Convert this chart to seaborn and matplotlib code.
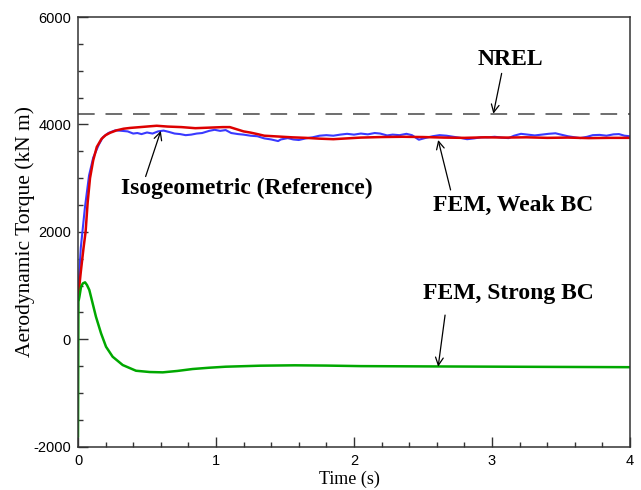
import matplotlib
matplotlib.use("Agg")
import matplotlib.pyplot as plt
import matplotlib.ticker as mtick
import pandas as pd
import seaborn as sns

# Valores (tempo em s, torque em kN m)
t_fem_weak = [0.0, 0.02, 0.05, 0.08, 0.11, 0.15, 0.18, 0.22, 0.27, 0.32, 0.36, 0.40, 0.43,
              0.46, 0.50, 0.54, 0.58, 0.62, 0.66, 0.70, 0.74, 0.78, 0.82, 0.86, 0.90, 0.95,
              0.99, 1.03, 1.07, 1.11, 1.16, 1.20, 1.25, 1.30, 1.35, 1.40, 1.45, 1.47, 1.52,
              1.56, 1.60, 1.65, 1.70, 1.75, 1.80, 1.85, 1.90, 1.95, 2.00, 2.05, 2.10, 2.15,
              2.19, 2.24, 2.28, 2.33, 2.38, 2.42, 2.47, 2.52, 2.57, 2.62, 2.67, 2.72, 2.77,
              2.82, 2.87, 2.92, 2.97, 3.02, 3.07, 3.12, 3.16, 3.21, 3.26, 3.31, 3.36, 3.41,
              3.46, 3.50, 3.55, 3.60, 3.64, 3.69, 3.73, 3.78, 3.83, 3.88, 3.92, 3.96, 4.00]
v_fem_weak = [800, 1700, 2450, 3050, 3380, 3620, 3760, 3840, 3890, 3880, 3870, 3830, 3840,
              3820, 3850, 3830, 3870, 3885, 3860, 3830, 3820, 3800, 3810, 3830, 3840, 3880,
              3900, 3880, 3895, 3840, 3820, 3810, 3790, 3780, 3740, 3720, 3690, 3720, 3745,
              3720, 3710, 3740, 3760, 3790, 3800, 3790, 3810, 3825, 3810, 3830, 3815, 3840,
              3830, 3795, 3810, 3800, 3825, 3800, 3715, 3750, 3780, 3800, 3790, 3770, 3750,
              3725, 3740, 3760, 3760, 3770, 3755, 3745, 3790, 3825, 3810, 3795, 3810, 3825,
              3835, 3810, 3780, 3760, 3745, 3770, 3800, 3805, 3790, 3815, 3820, 3790, 3780]

t_iga = [0.0, 0.02, 0.04, 0.055, 0.07, 0.087, 0.11, 0.136, 0.17, 0.20, 0.233, 0.28, 0.33,
         0.378, 0.45, 0.52, 0.57, 0.65, 0.75, 0.85, 0.95, 1.05, 1.10, 1.15, 1.20, 1.25, 1.30,
         1.35, 1.45, 1.55, 1.65, 1.75, 1.85, 1.95, 2.05, 2.2, 2.35, 2.5, 2.65, 2.8, 2.95,
         3.1, 3.25, 3.4, 3.55, 3.7, 3.85, 4.0]
v_iga = [750, 1250, 1700, 2000, 2550, 3000, 3330, 3580, 3730, 3800, 3845, 3890, 3920,
         3935, 3950, 3965, 3975, 3960, 3950, 3930, 3940, 3950, 3950, 3910, 3870, 3848, 3820,
         3790, 3775, 3760, 3750, 3735, 3725, 3740, 3755, 3765, 3770, 3765, 3755, 3750, 3760,
         3755, 3760, 3750, 3755, 3745, 3750, 3750]

t_fem_strong = [0.0, 0.003, 0.01, 0.022, 0.035, 0.051, 0.065, 0.082, 0.106, 0.130, 0.167,
                0.203, 0.251, 0.324, 0.42, 0.52, 0.614, 0.72, 0.83, 0.95, 1.07, 1.32, 1.57,
                1.8, 2.05, 2.5, 3.0, 3.5, 4.0]
v_fem_strong = [-1820, 700, 790, 978, 1040, 1060, 1010, 917, 669, 420, 110,
                -139, -325, -480, -586, -610, -616, -590, -554, -530, -511, -492, -485,
                -490, -500, -505, -510, -515, -520]

nrel_torque = 4190

df = pd.concat([
    pd.DataFrame({"tempo": t_fem_weak, "torque": v_fem_weak, "caso": "FEM, Weak BC"}),
    pd.DataFrame({"tempo": t_iga, "torque": v_iga, "caso": "Isogeometric (Reference)"}),
    pd.DataFrame({"tempo": t_fem_strong, "torque": v_fem_strong, "caso": "FEM, Strong BC"}),
])

sns.set_style("white")
plt.rcParams["xtick.direction"] = "in"
plt.rcParams["ytick.direction"] = "in"
plt.rcParams["axes.unicode_minus"] = False
plt.rcParams["text.color"] = "black"
plt.rcParams["axes.labelcolor"] = "black"
plt.rcParams["xtick.color"] = "black"
plt.rcParams["ytick.color"] = "black"

fig = plt.figure(figsize=(6.41, 4.9), dpi=100)
ax = fig.add_axes([0.1217, 0.0884, 0.8611, 0.8769])

cores = {"FEM, Weak BC": "#3a3aff", "Isogeometric (Reference)": "#dd0000", "FEM, Strong BC": "#00a800"}
larguras = {"FEM, Weak BC": 1.5, "Isogeometric (Reference)": 1.8, "FEM, Strong BC": 1.8}
for caso in ["FEM, Weak BC", "Isogeometric (Reference)", "FEM, Strong BC"]:
    sns.lineplot(data=df[df["caso"] == caso], x="tempo", y="torque", color=cores[caso],
                 linewidth=larguras[caso], estimator=None, ax=ax, legend=False)

ax.axhline(nrel_torque, color="#555555", linewidth=1.2, dashes=(10, 6.5))

ax.set_xlim(0, 4)
ax.set_ylim(-2000, 6000)
ax.xaxis.set_major_locator(mtick.MultipleLocator(1))
ax.xaxis.set_minor_locator(mtick.MultipleLocator(0.2))
ax.yaxis.set_major_locator(mtick.MultipleLocator(2000))
ax.yaxis.set_minor_locator(mtick.MultipleLocator(500))
ax.tick_params(which="both", bottom=True, left=True, top=False, right=False)
ax.tick_params(which="major", length=7, width=1, color="#333333",
               labelsize=10.5, labelfontfamily="Liberation Sans", pad=5)
ax.tick_params(which="minor", length=3.5, width=1, color="#333333")
for s in ax.spines.values():
    s.set_color("#333333")
    s.set_linewidth(1.1)

ax.set_xlabel("Time (s)", fontsize=13, family="Liberation Serif")
ax.set_ylabel("Aerodynamic Torque (kN m)", fontsize=15.5, family="Liberation Serif")
ax.yaxis.set_label_coords(-0.078, 0.5)
ax.xaxis.set_label_coords(0.492, -0.057)

# Rótulos das curvas com setas
rotulos = [
    ("NREL", (3.13, 5200), (3.07, 4950), (3.01, 4200)),
    ("Isogeometric (Reference)", (1.22, 2800), (0.49, 3030), (0.60, 3880)),
    ("FEM, Weak BC", (3.15, 2500), (2.70, 2780), (2.61, 3710)),
    ("FEM, Strong BC", (3.12, 855), (2.66, 450), (2.61, -510)),
]
for texto, pos, cauda, ponta in rotulos:
    ax.text(pos[0], pos[1], texto, ha="center", va="center", fontsize=17,
            fontweight="bold", family="Liberation Serif")
    ax.annotate("", xy=ponta, xytext=cauda,
                arrowprops=dict(arrowstyle="->", color="black", lw=0.9,
                                mutation_scale=14, shrinkA=0, shrinkB=0))

fig.savefig("out.png", dpi=100)
